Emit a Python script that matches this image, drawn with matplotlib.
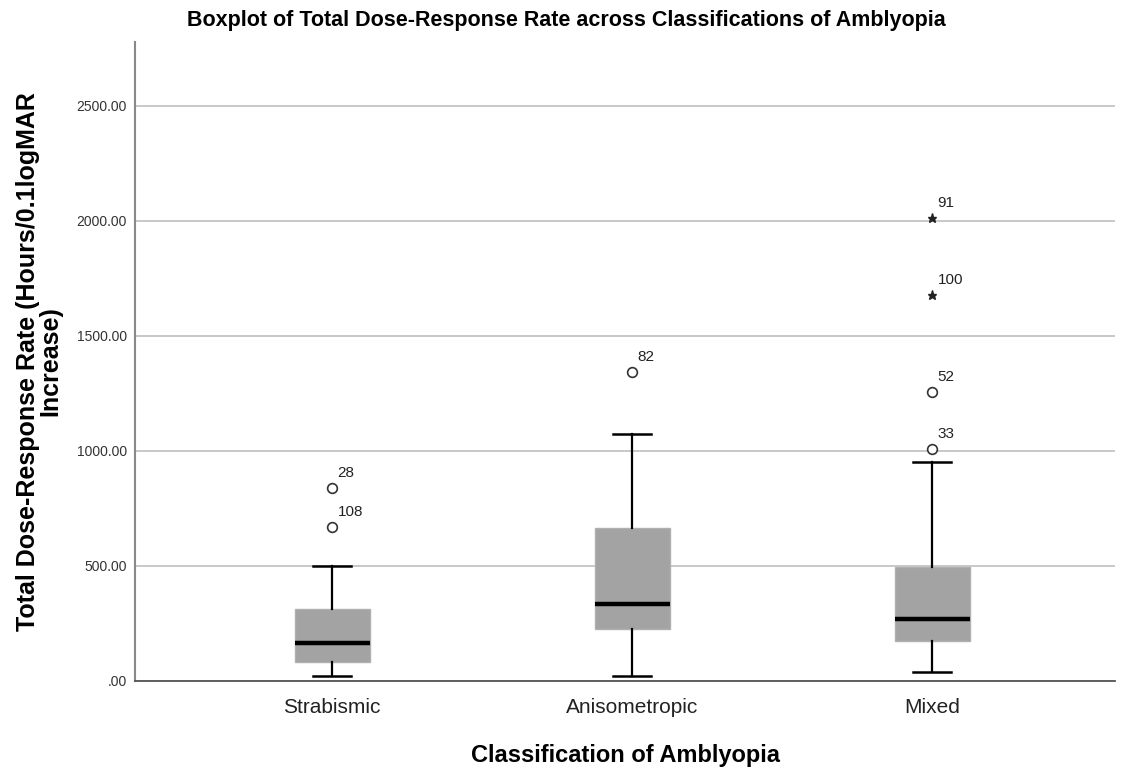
import matplotlib.pyplot as plt

# summary values per amblyopia class
groups = ["Strabismic", "Anisometropic", "Mixed"]
whisker_low = [20, 22, 38]
q1 = [84, 226, 175]
medians = [167, 333, 268]
q3 = [312, 667, 497]
whisker_high = [501, 1072, 951]

# outliers (circles) and extremes (stars) with case numbers
outliers = [[838, 668], [1342], [1258, 1009]]
outlier_ids = [["28", "108"], ["82"], ["52", "33"]]
extremes = [[], [], [2014, 1678]]
extreme_ids = [[], [], ["91", "100"]]

stats = []
for i in range(len(groups)):
    stats.append({
        "label": groups[i],
        "whislo": whisker_low[i],
        "q1": q1[i],
        "med": medians[i],
        "q3": q3[i],
        "whishi": whisker_high[i],
        "fliers": [],
    })

fig = plt.figure(figsize=(11.32, 7.72), dpi=100)
ax = fig.add_axes([0.1193, 0.1179, 0.8657, 0.8277])

arial = ["Liberation Sans", "DejaVu Sans"]

ax.bxp(stats, positions=[1, 2, 3], widths=0.25, patch_artist=True,
       showfliers=False,
       boxprops=dict(facecolor="#a3a3a3", edgecolor="#b0b0b0", linewidth=1),
       medianprops=dict(color="black", linewidth=3.2),
       whiskerprops=dict(color="black", linewidth=1.6),
       capprops=dict(color="black", linewidth=1.8),
       capwidths=0.125, zorder=3)

for i in range(len(groups)):
    x = i + 1
    for v, lab in zip(outliers[i], outlier_ids[i]):
        ax.plot(x, v, marker="o", markersize=7, markerfacecolor="white",
                markeredgecolor="#333333", markeredgewidth=1.2, zorder=4)
        ax.annotate(lab, (x, v), xytext=(4, 8), textcoords="offset points",
                    fontsize=11, family=arial, color="#222222")
    for v, lab in zip(extremes[i], extreme_ids[i]):
        ax.plot(x, v, marker="*", markersize=6.5, color="#222222", zorder=4)
        ax.annotate(lab, (x, v), xytext=(4, 8), textcoords="offset points",
                    fontsize=11, family=arial, color="#222222")

ax.set_xlim(0.343, 3.61)
ax.set_ylim(0, 2778)
ax.set_yticks([0, 500, 1000, 1500, 2000, 2500])
ax.set_yticklabels([".00", "500.00", "1000.00", "1500.00", "2000.00", "2500.00"],
                   family=arial, fontsize=10, color="#333333")
ax.set_xticks([1, 2, 3])
ax.set_xticklabels(groups, family=arial, fontsize=15, color="#222222")
ax.tick_params(axis="both", length=0)
ax.tick_params(axis="y", pad=6)
ax.tick_params(axis="x", pad=12)

ax.yaxis.grid(True, color="#c4c4c4", linewidth=1.3)
ax.set_axisbelow(True)
for s in ["top", "right"]:
    ax.spines[s].set_visible(False)
ax.spines["left"].set_color("#888888")
ax.spines["left"].set_linewidth(1.5)
ax.spines["bottom"].set_color("#555555")
ax.spines["bottom"].set_linewidth(1.3)

ax.set_xlabel("Classification of Amblyopia", family=arial, fontsize=17,
              fontweight="bold", labelpad=20)
ax.set_ylabel("Total Dose-Response Rate (Hours/0.1logMAR\nIncrease)",
              family=arial, fontsize=18, fontweight="bold", labelpad=10,
              linespacing=0.9)
fig.suptitle("Boxplot of Total Dose-Response Rate across Classifications of Amblyopia",
             x=0.5, y=0.987, family=arial, fontsize=15.5, fontweight="bold")

fig.savefig("out.png", dpi=100)
